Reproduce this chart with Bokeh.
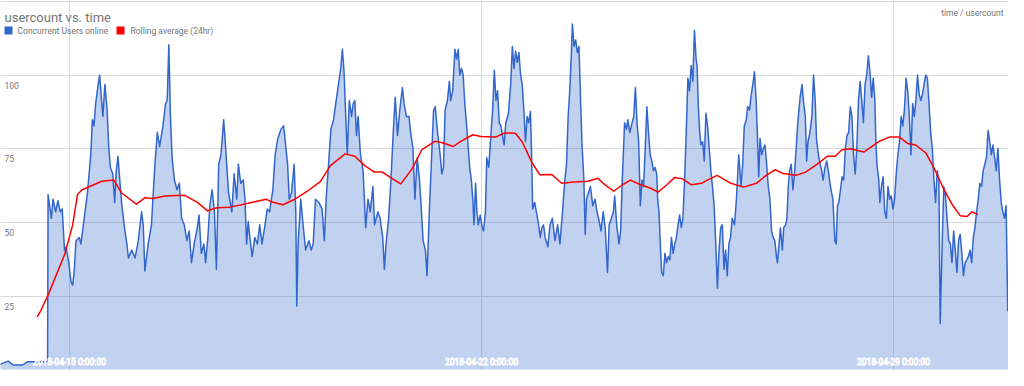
import pandas as pd
from bokeh.plotting import figure
from bokeh.models import Range1d, FixedTicker, Label, BoxAnnotation, ColumnDataSource
from bokeh.core.properties import value
from bokeh.embed import file_html
from bokeh.resources import INLINE

# ---------------- data ----------------
title_text = "usercount vs. time"
series_names = ["Concurrent Users online", "Rolling average (24hr)"]
axis_title = "time / usercount"
time_origin = "2018-04-15 00:00"   # all times below are hours after this instant

users_hours = [
    -29, -27, -25, -23, -21, -19, -17, -15, -13, -11, -8.9,
    -8.70, -7.36, -6.69, -5.62, -4.68, -3.75, -2.94, -2.01, -1.34, -0.27,
    0.67, 1.34, 2.01, 2.68, 4.01, 4.68, 6.02, 7.36, 8.70, 9.36,
    10.03, 10.70, 11.37, 12.31, 13.11, 13.65, 14.45, 15.38, 16.05, 16.72,
    17.66, 18.46, 19.00, 19.80, 20.74, 21.40, 22.47, 23.41, 24.08, 25.42,
    26.76, 28.09, 29.43, 30.10, 30.77, 32.11, 33.45, 34.78, 35.85, 36.79,
    38.13, 39.20, 39.87, 40.53, 41.20, 41.87, 42.81, 43.88, 44.82, 45.75,
    46.82, 47.89, 48.83, 49.77, 50.84, 52.17, 52.84, 53.78, 54.85, 55.52,
    56.45, 57.26, 58.19, 59.13, 59.93, 60.87, 61.81, 62.88, 63.55, 64.21,
    64.88, 66.22, 67.16, 68.23, 68.90, 69.83,
    70.90, 71.57, 72.24, 72.91, 73.57, 74.51, 75.58, 76.65, 77.59, 78.52,
    79.59, 80.66, 81.60, 82.94, 83.88, 84.95, 86.28, 87.35, 88.29, 88.96,
    89.63, 90.56, 91.63, 92.30, 92.70, 93.24, 94.31, 95.38, 96.32, 97.65,
    98.59, 99.39, 100.33, 101.67, 103.01, 103.94, 104.75, 105.68, 106.62, 107.69,
    108.76, 109.70, 110.63, 111.30, 111.97, 112.77, 113.31, 114.11, 115.05, 115.71,
    116.38, 117.05, 117.72, 118.66, 119.73, 120.80, 121.73, 122.67, 123.74, 124.41,
    125.75, 126.68, 127.75, 128.42, 129.09, 130.16, 131.10, 132.04, 132.84, 133.78,
    134.71, 135.78, 136.45, 137.39, 138.46, 139.13, 140.06, 140.87, 141.80, 142.74,
    143.54, 144.21, 145.15, 145.81, 146.75, 147.55, 148.49, 149.16, 150.10, 151.16,
    151.83,
    152.51, 153.18, 154.12, 154.92, 155.45, 156.26, 157.19, 157.86, 158.53, 159.20,
    159.87, 160.54, 161.21, 161.87, 162.54, 163.21, 163.88, 164.55, 164.95, 165.62,
    166.16, 166.69, 167.49, 168.30, 168.83, 169.63, 170.17, 170.97, 171.91, 172.58,
    173.25, 173.91, 174.58, 175.25, 175.92, 176.59, 177.26, 177.93, 179.00, 179.93,
    180.60, 181.27, 181.94, 182.61, 183.28, 183.95, 184.62, 185.29, 185.95, 186.62,
    187.29, 187.96, 188.36, 188.90, 189.70, 190.64, 191.31, 191.98, 192.64, 193.31,
    193.98, 195.05, 195.99, 196.92, 197.99, 199.06, 200.00, 200.94, 202.01, 202.68,
    203.35, 204.01, 204.68, 205.08, 205.75, 206.42, 207.09, 207.76, 208.43, 208.96,
    209.77, 210.30, 210.84, 211.64, 212.44, 213.38, 214.32, 215.12, 216.05, 216.72,
    217.66, 218.46, 219.40, 220.07, 221.00, 221.81, 222.34, 223.14, 224.08, 224.75,
    225.42, 226.36, 227.16, 227.69, 228.50, 229.43, 230.10, 230.77, 231.44, 232.11,
    232.78, 233.45, 234.11, 234.78,
    235.45, 236.12, 236.79, 237.46, 238.12, 238.79, 239.46, 239.86, 240.40, 240.93,
    241.47, 242.14, 242.81, 243.48, 244.14, 244.81, 245.48, 246.15, 246.82, 247.49,
    248.16, 248.83, 249.50, 250.16, 250.83, 251.50, 252.17, 252.84, 253.51, 254.18,
    254.85, 255.52, 255.92, 256.45, 256.99, 257.52, 258.19, 258.86, 259.53, 260.20,
    260.87, 261.54, 262.20, 262.87, 263.54, 264.21, 264.88, 265.55, 266.22, 266.89,
    267.56, 268.22, 268.89, 269.56, 270.23, 271.17, 271.97, 272.91, 273.84, 274.51,
    275.18, 275.98, 276.52, 277.32, 277.86, 278.66, 279.33, 280.00, 280.53, 281.07,
    281.60, 282.27, 282.94, 283.61, 284.28, 284.95, 285.62, 286.29, 286.95, 287.62,
    288.29, 288.69, 289.36, 289.90, 290.70, 291.23, 292.04, 292.57, 293.11, 293.64,
    294.31, 294.98, 295.65, 296.32, 296.99, 297.92, 298.73, 299.26, 300.06, 300.60,
    301.13, 301.94, 302.74, 303.41, 304.08, 304.61, 305.41, 306.08, 306.75, 307.29,
    308.09, 308.76, 309.43, 310.10, 310.77, 311.30, 312.10, 312.64, 313.17, 313.71,
    314.38, 315.05, 315.72, 316.39, 317.05,
    317.72, 318.39, 319.06, 319.73, 320.39, 321.06, 321.73, 322.40, 323.07, 323.74,
    324.41, 325.08, 325.75, 326.41, 327.08, 327.75, 328.42, 328.82, 329.36, 330.03,
    330.43, 331.10, 331.77, 332.43, 333.10, 333.77, 334.44, 335.11, 335.78, 336.45,
    337.12, 337.79, 338.45, 339.12, 339.79, 340.46, 341.13, 341.80, 342.47, 343.14,
    343.81, 344.47, 345.14, 345.81, 346.48, 347.15, 347.82, 348.49, 349.16, 349.83,
    350.49, 351.16, 351.83, 352.50, 353.17, 353.84, 354.51, 355.04, 355.85, 356.51,
    357.18, 357.85, 358.52, 359.19, 359.86, 360.53, 361.20, 361.87, 362.53, 363.20,
    363.87, 364.54, 365.21, 365.88, 366.55, 367.22, 367.89, 368.55, 369.22, 369.89,
    370.56, 371.23, 371.90, 372.57, 373.24, 373.91, 374.57, 375.24, 375.91, 376.58,
    377.25, 377.92, 378.59, 379.26, 379.93, 380.59, 381.26, 381.93, 382.60, 383.0,
]
users_online = [
    1.6, 2.2, 2.9, 1.6, 1.6, 1.6, 2.7, 2.7, 2.7, 2.7, 2.7,
    59.5, 51.4, 57.9, 53.6, 57.4, 53.6, 54.6, 40.6, 41.7, 36.3,
    29.8, 28.7, 34.1, 43.8, 44.9, 42.7, 51.4, 60.1, 73.0, 84.9,
    82.8, 90.4, 94.7, 100.1, 91.4, 86.0, 96.9, 88.2, 75.2, 68.7,
    66.5, 56.8, 66.5, 72.5, 62.2, 55.7, 48.2, 42.7, 37.9, 40.6,
    37.9, 43.8, 53.6, 49.2, 33.5, 42.7, 49.2, 68.7, 80.6, 75.8,
    82.8, 90.4, 91.4, 110.4, 86.0, 72.0, 64.4, 61.1, 63.3, 51.4,
    49.2, 43.8, 47.1, 36.3, 42.7, 48.2, 52.5, 39.5, 42.7, 36.3,
    44.9, 55.7, 61.1, 53.6, 34.1, 69.8, 73.0, 84.9, 77.4, 68.7,
    60.1, 53.6, 66.5, 57.9, 69.8, 63.3,
    64.4, 57.9, 42.7, 50.3, 44.9, 38.4, 44.9, 42.7, 49.2, 42.7,
    48.2, 54.6, 53.6, 61.1, 73.0, 78.5, 81.7, 82.8, 75.2, 69.8,
    57.9, 60.1, 69.8, 53.6, 21.6, 42.7, 57.9, 48.2, 40.6, 43.8,
    40.6, 42.7, 57.9, 56.8, 54.6, 43.8, 59.0, 69.8, 81.7, 84.9,
    91.4, 96.9, 102.3, 108.8, 101.2, 83.9, 73.0, 91.4, 86.0, 90.4,
    91.4, 79.5, 86.0, 73.0, 67.6, 48.2, 57.9, 53.6, 62.2, 49.2,
    53.6, 51.4, 44.9, 34.1, 42.7, 51.4, 64.4, 80.6, 92.5, 79.5,
    88.2, 95.8, 90.4, 86.0, 86.0, 80.6, 75.2, 57.9, 72.0, 64.4,
    53.6, 43.8, 40.6, 31.9, 53.6, 69.8, 88.2, 89.3, 80.6, 73.0,
    66.5,
    68.7, 88.2, 91.4, 97.9, 91.4, 94.7, 108.8, 105.5, 108.8, 100.1,
    102.3, 100.1, 90.4, 83.9, 76.3, 68.7, 64.4, 56.8, 49.2, 63.3,
    53.6, 49.2, 52.5, 48.2, 47.1, 53.6, 72.0, 68.7, 80.6, 88.2,
    101.7, 91.4, 94.7, 83.9, 82.8, 79.5, 76.3, 83.9, 87.1, 96.9,
    109.8, 102.3, 108.2, 104.4, 107.7, 100.1, 96.9, 88.2, 77.4, 86.0,
    83.9, 87.7, 76.3, 54.6, 56.8, 52.5, 49.2, 44.9, 48.2, 49.2,
    44.9, 41.7, 49.2, 51.4, 43.8, 49.2, 42.7, 52.5, 64.4, 69.8,
    86.0, 94.7, 107.7, 117.4, 109.8, 112.0, 107.7, 109.8, 91.4, 77.4,
    64.4, 46.0, 57.9, 60.1, 62.2, 55.7, 57.9, 53.6, 50.3, 47.1,
    53.6, 48.2, 33.0, 49.2, 51.4, 53.6, 59.0, 49.2, 42.7, 47.1,
    64.4, 83.9, 81.7, 84.9, 80.6, 83.9, 86.0, 95.8, 83.9, 77.4,
    55.7, 64.4, 62.2, 75.2,
    89.3, 80.6, 73.0, 70.9, 67.6, 68.7, 66.5, 57.9, 53.6, 42.7,
    33.0, 31.9, 39.5, 36.3, 38.4, 37.3, 44.9, 39.5, 42.7, 44.9,
    49.2, 52.5, 48.2, 51.4, 64.4, 80.6, 99.0, 94.7, 103.3, 97.9,
    115.3, 105.5, 103.3, 89.3, 80.6, 76.3, 77.4, 70.9, 87.1, 82.8,
    75.2, 67.6, 62.2, 55.7, 42.7, 27.6, 40.6, 48.2, 49.2, 34.1,
    40.6, 31.9, 42.7, 44.9, 51.4, 49.2, 57.9, 73.0, 62.2, 69.8,
    82.8, 84.9, 89.3, 88.2, 92.5, 96.9, 101.2, 91.4, 79.5, 65.5,
    78.5, 73.0, 75.2, 76.3, 69.8, 62.2, 57.9, 47.1, 44.9, 43.8,
    38.4, 36.3, 42.7, 48.2, 40.6, 48.2, 49.2, 51.4, 62.2, 67.6,
    69.8, 61.1, 66.5, 75.2, 83.9, 92.5, 96.9, 91.4, 86.0, 70.9,
    77.4, 80.6, 86.0, 100.1, 91.4, 78.5, 73.0, 69.8, 67.6, 64.4,
    68.7, 70.9, 67.6, 63.3, 60.1, 57.9, 43.8, 42.7, 55.7, 56.8,
    61.1, 65.5, 64.4, 75.2, 79.5,
    80.6, 89.3, 86.0, 73.0, 66.5, 75.2, 91.4, 97.9, 91.4, 83.9,
    96.9, 100.1, 106.6, 101.2, 92.5, 99.0, 91.4, 77.4, 68.7, 64.4,
    56.8, 62.2, 65.5, 53.6, 51.4, 62.2, 57.9, 59.0, 54.6, 57.9,
    66.5, 73.0, 77.4, 86.0, 82.8, 88.2, 99.0, 94.7, 86.0, 73.0,
    90.4, 86.0, 91.4, 100.1, 93.6, 91.4, 93.6, 96.9, 100.1, 99.0,
    90.4, 80.6, 75.2, 64.4, 56.8, 67.6, 64.4, 15.7, 42.7, 62.2,
    59.0, 51.4, 43.8, 42.7, 36.3, 47.1, 40.6, 33.0, 43.8, 46.0,
    39.5, 31.9, 36.3, 37.3, 38.4, 40.6, 36.3, 44.9, 48.2, 53.6,
    57.9, 63.3, 62.2, 67.6, 69.8, 72.0, 81.2, 77.4, 73.0, 76.3,
    72.0, 67.6, 75.2, 64.4, 56.8, 53.6, 51.4, 55.7, 20.0, 20.0,
]

avg_hours = [
    -13.2, -12.0, -8.7, -2.0, 1.3, 3.3, 5.2, 13.2, 18.1, 21.3,
    27.3, 30.9, 34.1, 38.9, 47.0, 52.2, 56.2, 60.2, 65.4, 70.2,
    74.2, 80.3, 82.3, 87.0, 91.5, 97.0, 102.3, 106.4, 112.4, 116.4,
    120.4, 124.4, 127.6, 131.6, 135.1, 139.7, 143.7, 149.2, 152.5, 156.5,
    159.7, 164.5, 167.8, 173.8, 177.4, 181.8, 184.6, 188.6, 191.8, 196.7,
    200.7, 205.9, 211.5, 215.5, 217.9, 221.9, 225.5, 228.8, 232.8, 236.8,
    240.0, 243.6, 246.8, 250.0, 253.6, 257.7, 260.1, 264.1, 269.7, 274.9,
    280.1, 284.1, 287.8, 291.0, 296.2, 300.2, 305.8, 309.0, 312.2, 315.0,
    318.3, 323.9, 330.3, 334.3, 338.4, 341.9, 345.1, 349.2, 352.4, 356.0,
    360.0, 363.2, 366.0, 368.0, 370.4,
]
avg_values = [
    17.9, 19.5, 25.3, 39, 49, 59.5, 61.1, 64, 64.4, 60,
    56.2, 58.4, 58.1, 59, 59.2, 56.8, 54, 55, 55.2, 56,
    56.8, 57.9, 57, 56, 57.7, 60.6, 63.9, 69.3, 73.3, 72.5,
    69.3, 67.1, 67.1, 64.9, 63.1, 68.2, 74.7, 77.6, 77, 75.8,
    77.6, 79.8, 79.2, 79, 80.4, 80.3, 77.4, 70.3, 66.2, 66.3,
    63.3, 63.7, 64, 65, 63.1, 60.6, 62.8, 64.4, 62.8, 61.7,
    60.3, 62.8, 65.3, 64.8, 62.8, 63.3, 64.4, 66, 63.3, 62,
    63.3, 66, 67.9, 66.6, 66, 67.1, 70.3, 72.5, 72.5, 74.7,
    75, 73.9, 77.6, 79, 79, 76.8, 76.3, 73.6, 68.7, 62.2,
    56, 52.3, 52, 53.6, 52.7,
]

x_tick_dates = ["2018-04-15", "2018-04-22", "2018-04-29"]
x_tick_labels = ["2018-04-15 0:00:00", "2018-04-22 0:00:00", "2018-04-29 0:00:00"]
y_ticks = [25, 50, 75, 100]
y_tick_labels = ["25", "50", "75", "100"]
y_grid_lines = [25, 50, 75, 100, 125]

# ---------------- styling ----------------
BLUE = "#3366cc"
RED = "#ff0000"
TEXT = "#757575"
FONT = "Roboto"
W, H = 1008, 370

origin = pd.Timestamp(time_origin)
n_u = min(len(users_hours), len(users_online))
users_time = origin + pd.to_timedelta(users_hours[:n_u], unit="h")
avg_time = origin + pd.to_timedelta(avg_hours, unit="h")

x_start = origin - pd.Timedelta(hours=28.1)
x_end = origin + pd.Timedelta(hours=382.9)

p = figure(width=W, height=H, x_axis_type="datetime",
           x_range=Range1d(x_start, x_end), y_range=Range1d(-0.3, 125.4),
           output_backend="svg", toolbar_location=None,
           min_border=0, min_border_left=0, min_border_right=0,
           min_border_top=0, min_border_bottom=0)
p.outline_line_color = None
p.background_fill_color = "white"
p.xaxis.visible = False
p.yaxis.visible = False

tick_ms = [pd.Timestamp(d).value // 10**6 for d in x_tick_dates]
p.xgrid.ticker = FixedTicker(ticks=tick_ms)
p.ygrid.ticker = FixedTicker(ticks=y_grid_lines)
for g in (p.xgrid, p.ygrid):
    g.grid_line_color = "#d9d9d9"
    g.grid_line_width = 1

src_users = ColumnDataSource(dict(t=users_time, v=users_online[:n_u]))
src_avg = ColumnDataSource(dict(t=avg_time, v=avg_values))

p.varea(x="t", y1=0, y2="v", source=src_users, fill_color=BLUE, fill_alpha=0.3)
p.line(x="t", y="v", source=src_users, line_color=BLUE, line_width=1.5, line_join="round")
p.line(x="t", y="v", source=src_avg, line_color=RED, line_width=1.5, line_join="round")

# x tick labels inside the plot, at the bottom
p.text(x=[pd.Timestamp(d) for d in x_tick_dates], y=[0] * len(x_tick_dates), text=x_tick_labels,
       text_align="center", text_baseline="alphabetic", y_offset=-7.5,
       text_font=value(FONT), text_font_size="8.5px", text_color=TEXT,
       text_outline_color="white")

# y tick labels inside the plot, at the left, just below grid lines
p.text(x=[x_start] * len(y_ticks), y=y_ticks, text=y_tick_labels,
       text_align="left", text_baseline="alphabetic", x_offset=4, y_offset=10,
       text_font=value(FONT), text_font_size="8.5px", text_color=TEXT)

# title, legend and axis caption
p.add_layout(Label(x=4, y=H - 17, x_units="screen", y_units="screen", text=title_text,
                   text_font=FONT, text_font_size="13px", text_color=TEXT,
                   text_baseline="alphabetic"))
p.add_layout(Label(x=W - 5, y=H - 12.7, x_units="screen", y_units="screen", text=axis_title,
                   text_font=FONT, text_font_size="8.5px", text_color=TEXT,
                   text_align="right", text_baseline="alphabetic"))

leg_y = H - 30
for sx, tx, col, name in [(4, 17, BLUE, series_names[0]), (116, 130, RED, series_names[1])]:
    p.add_layout(BoxAnnotation(left=sx, right=sx + 8, bottom=leg_y - 4, top=leg_y + 4,
                               left_units="screen", right_units="screen",
                               bottom_units="screen", top_units="screen",
                               fill_color=col, fill_alpha=1.0, line_color=None))
    p.add_layout(Label(x=tx, y=leg_y, x_units="screen", y_units="screen", text=name,
                       text_font=FONT, text_font_size="8.5px", text_color=TEXT,
                       text_baseline="middle"))

open("out.html", "w").write(file_html(p, INLINE))
